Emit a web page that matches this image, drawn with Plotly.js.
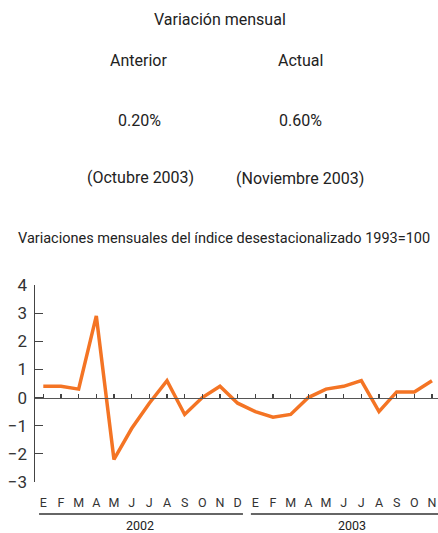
<!DOCTYPE html>
<html><head><meta charset="utf-8">
<script src="https://cdn.plot.ly/plotly-3.0.1.min.js"></script>
<style>html,body{margin:0;padding:0;background:#fff}</style>
</head><body><div id="chart" style="width:438px;height:533px"></div>
<script>
const months = ["E","F","M","A","M","J","J","A","S","O","N","D","E","F","M","A","M","J","J","A","S","O","N"];
const years = ["2002","2003"];
const values = [0.4,0.4,0.3,2.9,-2.2,-1.1,-0.2,0.6,-0.6,0.0,0.4,-0.2,
                -0.5,-0.7,-0.6,0.0,0.3,0.4,0.6,-0.5,0.2,0.2,0.6];
const yTicks = [-3,-2,-1,0,1,2,3,4];
const headerTitle = "Variación mensual";
const colLabels = ["Anterior","Actual"];
const colValues = ["0.20%","0.60%"];
const colPeriods = ["(Octubre 2003)","(Noviembre 2003)"];
const subtitle = "Variaciones mensuales del índice desestacionalizado 1993=100";

const idx = months.map((m,i)=>i);
const FONT = 'Roboto, "Liberation Sans", sans-serif';
const TXT = '#222';

const trace = {x: idx, y: values, type:'scatter', mode:'lines',
  line:{color:'#f47424', width:3.5}, hoverinfo:'skip', showlegend:false};

const py = p => (482 - p) / 197;
const px = p => (p - 35) / 403;
const ann = [];
function t(text, x, yPix, size, xref){ ann.push({text, x, y: py(yPix), xref: xref||'paper', yref:'paper',
  xanchor:'center', yanchor:'middle', showarrow:false, font:{family:FONT, size, color:TXT}}); }
t(headerTitle, px(220), 20, 16);
t(colLabels[0], px(138), 60, 16);
t(colLabels[1], px(300), 60, 16);
t(colValues[0], px(139), 120, 16);
t(colValues[1], px(300), 120, 16);
t(colPeriods[0], px(140), 177, 16);
t(colPeriods[1], px(300), 178, 16);
t(subtitle, px(224), 238, 14.5);
t(years[0], 5.5, 525, 12.5, 'x');
t(years[1], 17.5, 525, 12.5, 'x');

const shapes = [
  {type:'line', xref:'x', yref:'paper', x0:-0.24, x1:11.3, y0:py(514), y1:py(514), line:{color:'#333', width:1.5}},
  {type:'line', xref:'x', yref:'paper', x0:11.75, x1:22.4, y0:py(514), y1:py(514), line:{color:'#333', width:1.5}}
];

const layout = {
  width:438, height:533,
  margin:{l:35, r:0, t:285, b:51, pad:0},
  paper_bgcolor:'#fff', plot_bgcolor:'#fff',
  font:{family:FONT, color:TXT},
  xaxis:{range:[-0.47,22.34], tickvals:idx, ticktext:months, ticks:'', showline:false,
    showgrid:false, zeroline:false, tickfont:{size:12.5, family:FONT, color:'#333'}, ticklabelstandoff:11},
  xaxis2:{overlaying:'x', anchor:'free', position:3/7, side:'top', range:[-0.47,22.34],
    tickvals:idx, showticklabels:false, ticks:'outside', ticklen:4, tickwidth:1.2, tickcolor:'#444',
    showline:true, linecolor:'#555', linewidth:1.5, showgrid:false, zeroline:false},
  yaxis:{range:[-3,4], tickvals:yTicks, ticks:'inside', ticklen:8, tickwidth:1.2, tickcolor:'#444',
    showline:true, linecolor:'#444', linewidth:1.5, showgrid:false, zeroline:false,
    tickfont:{size:17, family:FONT, color:'#333'}, ticklabelstandoff:3},
  annotations: ann, shapes: shapes
};
const ghost = {x:[0], y:[0], xaxis:'x2', type:'scatter', mode:'markers', marker:{opacity:0}, hoverinfo:'skip', showlegend:false};
Plotly.newPlot('chart', [ghost, trace], layout, {displayModeBar:false, staticPlot:true});
</script></body></html>
